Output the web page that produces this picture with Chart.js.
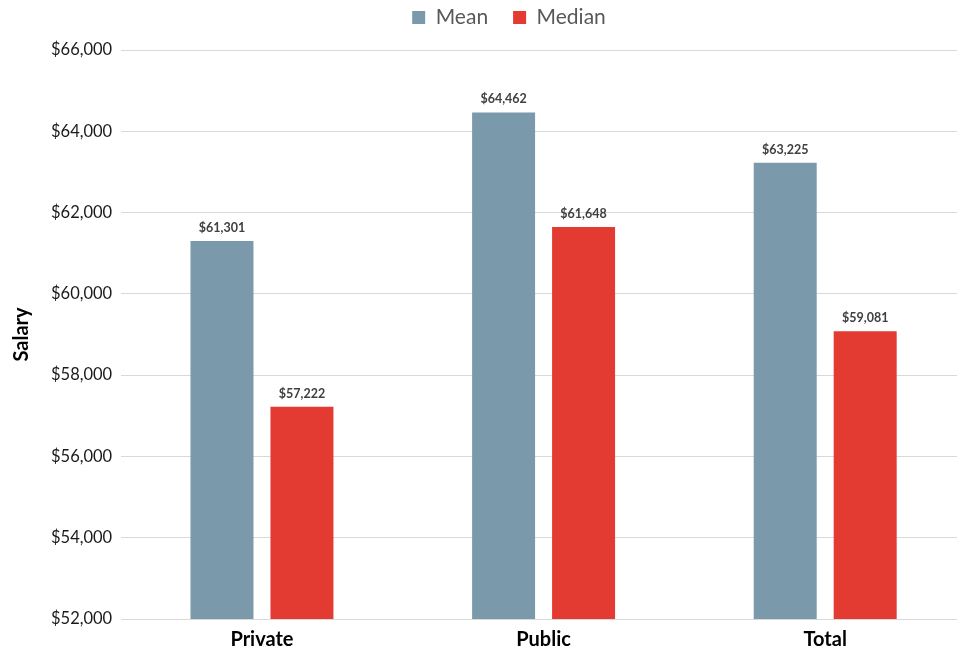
<!DOCTYPE html>
<html>
<head>
<meta charset="utf-8">
<script src="https://cdn.jsdelivr.net/npm/chart.js@4.4.1/dist/chart.umd.min.js"></script>
<style>
  html, body { margin: 0; padding: 0; background: #ffffff; overflow: hidden; }
  #wrap { width: 966px; height: 654px; }
</style>
</head>
<body>
<div id="wrap"><canvas id="c" width="966" height="654"></canvas></div>
<script>
const categories = ["Private", "Public", "Total"];
const seriesNames = ["Mean", "Median"];
const meanValues = [61301, 64462, 63225];
const medianValues = [57222, 61648, 59081];
const yTickMin = 52000;
const yTickMax = 66000;
const yTickStep = 2000;

const FONT = "Lato, 'Open Sans', sans-serif";
const fmt = v => "$" + v.toLocaleString("en-US");

const dataLabels = {
  id: "dataLabels",
  afterDatasetsDraw(chart) {
    const ctx = chart.ctx;
    ctx.save();
    ctx.font = "bold 12.5px " + FONT;
    ctx.fillStyle = "#404040";
    ctx.textAlign = "center";
    ctx.textBaseline = "bottom";
    chart.data.datasets.forEach((ds, i) => {
      const meta = chart.getDatasetMeta(i);
      meta.data.forEach((bar, j) => {
        ctx.fillText(fmt(ds.data[j]), bar.x, bar.y - 7);
      });
    });
    ctx.restore();
  }
};

const legendShift = {
  id: "legendShift",
  afterLayout(chart) {
    const l = chart.legend;
    if (!l) return;
    const dx = 22, dy = -12;
    l.left += dx;
    l.right += dx;
    l.top += dy;
    l.bottom += dy;
  }
};

new Chart(document.getElementById("c"), {
  type: "bar",
  data: {
    labels: categories,
    datasets: [
      { label: seriesNames[0], data: meanValues, backgroundColor: "#7A9AAC", borderWidth: 0 },
      { label: seriesNames[1], data: medianValues, backgroundColor: "#E33A31", borderWidth: 0 }
    ]
  },
  options: {
    responsive: false,
    animation: false,
    devicePixelRatio: 1,
    categoryPercentage: 0.568,
    barPercentage: 0.7875,
    layout: { padding: { top: -6, bottom: -7, left: 8, right: 0 } },
    plugins: {
      legend: {
        position: "top",
        labels: {
          font: { family: FONT, size: 21 },
          color: "#595959",
          boxWidth: 13,
          boxHeight: 13,
          padding: 25
        }
      },
      tooltip: { enabled: false }
    },
    scales: {
      x: {
        grid: { display: false, drawTicks: false },
        border: { display: false },
        ticks: { font: { family: FONT, size: 20, weight: "bold" }, color: "#000000", padding: 9 }
      },
      y: {
        min: yTickMin,
        max: yTickMax,
        grid: { color: "#d9d9d9", drawTicks: false, lineWidth: 1 },
        border: { display: false },
        ticks: {
          stepSize: yTickStep,
          padding: 9,
          color: "#1a1a1a",
          font: { family: FONT, size: 16.5 },
          callback: v => fmt(v)
        },
        title: {
          display: true,
          text: "Salary",
          color: "#000000",
          font: { family: FONT, size: 20, weight: "bold" },
          padding: { top: 2, bottom: 8 }
        }
      }
    }
  },
  plugins: [dataLabels, legendShift]
});
</script>
</body>
</html>
